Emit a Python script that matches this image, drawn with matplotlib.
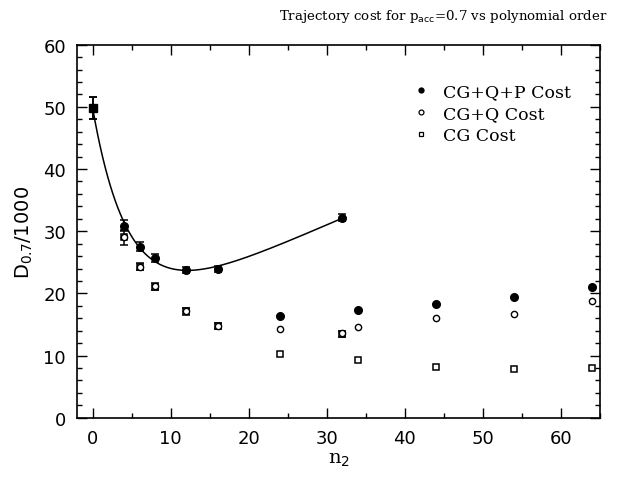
import numpy as np
import matplotlib
matplotlib.use("Agg")
import matplotlib.pyplot as plt
from matplotlib.ticker import MultipleLocator

# polynomial order
n2 = [0, 4, 6, 8, 12, 16, 24, 32, 34, 44, 54, 64]

# D_0.7 / 1000
cost_cgqp = [49.8, 30.9, 27.5, 25.7, 23.8, 23.9, 16.4, 32.2, 17.4, 18.3, 19.4, 21.1]
err_cgqp = [1.8, 0.9, 0.7, 0.6, 0.5, 0.5, 0, 0.6, 0, 0, 0, 0]
cost_cgq = [49.8, 29.0, 24.3, 21.2, 17.1, 14.8, 14.2, 13.6, 14.6, 16.0, 16.7, 18.7]
cost_cg = [49.8, 29.0, 24.3, 21.1, 17.1, 14.7, 10.2, 13.5, 9.3, 8.15, 7.9, 8.0]
err_cg = [1.8, 1.2, 0.6, 0.6, 0.5, 0.5, 0, 0.5, 0, 0, 0, 0]

x = np.array(n2, dtype=float)
y1 = np.array(cost_cgqp)
e1 = np.array(err_cgqp)
y2 = np.array(cost_cgq)
y3 = np.array(cost_cg)
e3 = np.array(err_cg)

fig = plt.figure(figsize=(6.17, 4.81), dpi=100)
ax = fig.add_axes([0.125, 0.1295, 0.8475, 0.7755])

# fit a + b*n + c*exp(-n/tau) to the points with error bars
fit_pts = e1 > 0
best = None
for tau in np.linspace(1.0, 10.0, 181):
    A = np.column_stack([np.ones(fit_pts.sum()), x[fit_pts], np.exp(-x[fit_pts] / tau)])
    coef, res, _, _ = np.linalg.lstsq(A, y1[fit_pts], rcond=None)
    r = np.sum((A @ coef - y1[fit_pts]) ** 2)
    if best is None or r < best[0]:
        best = (r, tau, coef)
_, tau, coef = best
xf = np.linspace(0, x[fit_pts].max(), 300)
yf = coef[0] + coef[1] * xf + coef[2] * np.exp(-xf / tau)
ax.plot(xf, yf, color='black', lw=1.1, zorder=2)

ekw = dict(fmt='none', ecolor='black', elinewidth=1.1, capsize=3, capthick=1.1, zorder=3)
ax.errorbar(x[e3 > 0], y3[e3 > 0], yerr=e3[e3 > 0], **ekw)
ax.errorbar(x[e1 > 0], y1[e1 > 0], yerr=e1[e1 > 0], **ekw)

ax.plot(x, y3, 's', mfc='white', mec='black', mew=1.1, ms=5, zorder=4)
ax.plot(x, y2, 'o', mfc='white', mec='black', mew=1.0, ms=4.5, zorder=5)
ax.plot(x[1:], y1[1:], 'o', mfc='black', mec='black', ms=5.5, zorder=6)
ax.plot(x[:1], y1[:1], 's', mfc='black', mec='black', ms=6, zorder=6)

# legend entries
ax.plot([], [], 'o', mfc='black', mec='black', ms=3.5, label='CG+Q+P Cost')
ax.plot([], [], 'o', mfc='white', mec='black', ms=3.5, mew=0.9, label='CG+Q Cost')
ax.plot([], [], 's', mfc='white', mec='black', ms=3.5, mew=0.9, label='CG Cost')
h, l = ax.get_legend_handles_labels()
ax.legend(h[-3:], l[-3:], loc='upper right', frameon=False, handlelength=0.8,
          handletextpad=0.9, labelspacing=0.3, bbox_to_anchor=(0.975, 0.94),
          prop={'family': 'DejaVu Serif', 'size': 12.5})

ax.set_xlim(-2, 65)
ax.set_ylim(0, 60)
ax.xaxis.set_major_locator(MultipleLocator(10))
ax.xaxis.set_minor_locator(MultipleLocator(5))
ax.yaxis.set_major_locator(MultipleLocator(10))
ax.yaxis.set_minor_locator(MultipleLocator(2))
ax.tick_params(which='both', direction='in', top=True, right=True, width=1.0)
ax.tick_params(which='major', length=7, labelsize=13, pad=8)
ax.tick_params(which='minor', length=3.5)
for s in ax.spines.values():
    s.set_linewidth(1.2)

ax.set_xlabel('n$_2$', fontsize=14, family='DejaVu Serif', labelpad=2)
ax.set_ylabel('D$_{0.7}$/1000', fontsize=14, labelpad=6)

fig.text(0.985, 0.965, 'Trajectory cost for p$_{\\rm acc}$=0.7 vs polynomial order',
         ha='right', va='center', family='DejaVu Serif', fontsize=9.6)

fig.savefig('out.png', dpi=100)
